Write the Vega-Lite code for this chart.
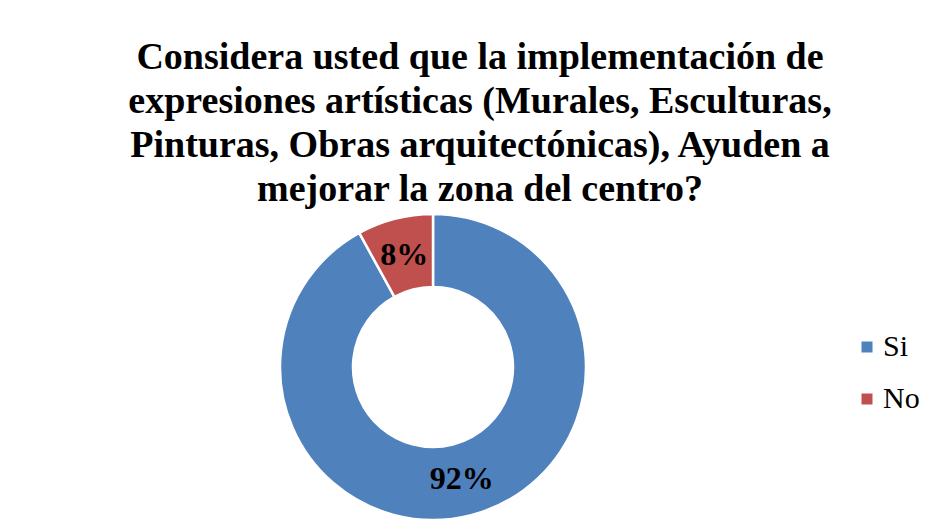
{
  "$schema": "https://vega.github.io/schema/vega-lite/v6.json",
  "width": 866,
  "height": 306,
  "autosize": {"type": "none"},
  "padding": {"left": 0, "top": 214, "right": 65, "bottom": 7},
  "background": "white",
  "title": {
    "text": ["Considera usted que la implementación de", "expresiones artísticas (Murales, Esculturas,", "Pinturas, Obras arquitectónicas), Ayuden a", "mejorar la zona del centro?"],
    "font": "Liberation Serif",
    "fontSize": 38,
    "fontWeight": "bold",
    "color": "black",
    "lineHeight": 44,
    "anchor": "middle",
    "dx": 47,
    "offset": 0
  },
  "data": {
    "values": [
      {"respuesta": "Si", "valor": 92, "etiqueta": "92%"},
      {"respuesta": "No", "valor": 8, "etiqueta": "8%"}
    ]
  },
  "encoding": {
    "theta": {"field": "valor", "type": "quantitative", "stack": true},
    "order": {"field": "valor", "sort": "descending"}
  },
  "layer": [
    {
      "mark": {"type": "arc", "outerRadius": 153, "innerRadius": 80, "stroke": "white", "strokeWidth": 2.5},
      "encoding": {
        "color": {
          "field": "respuesta",
          "type": "nominal",
          "sort": ["Si", "No"],
          "scale": {"domain": ["Si", "No"], "range": ["#4F81BD", "#C0504D"]},
          "legend": {
            "title": null,
            "orient": "none",
            "legendX": 852,
            "legendY": 118,
            "symbolType": "square",
            "symbolSize": 121,
            "symbolStrokeWidth": 0,
            "labelFont": "Liberation Serif",
            "labelFontSize": 30,
            "labelColor": "black",
            "labelOffset": 1,
            "rowPadding": 22
          }
        }
      }
    },
    {
      "mark": {"type": "text", "radius": 116, "font": "Liberation Serif", "fontSize": 32, "fontWeight": "bold", "fill": "black"},
      "encoding": {"text": {"field": "etiqueta"}}
    }
  ],
  "config": {"view": {"stroke": null}}
}
